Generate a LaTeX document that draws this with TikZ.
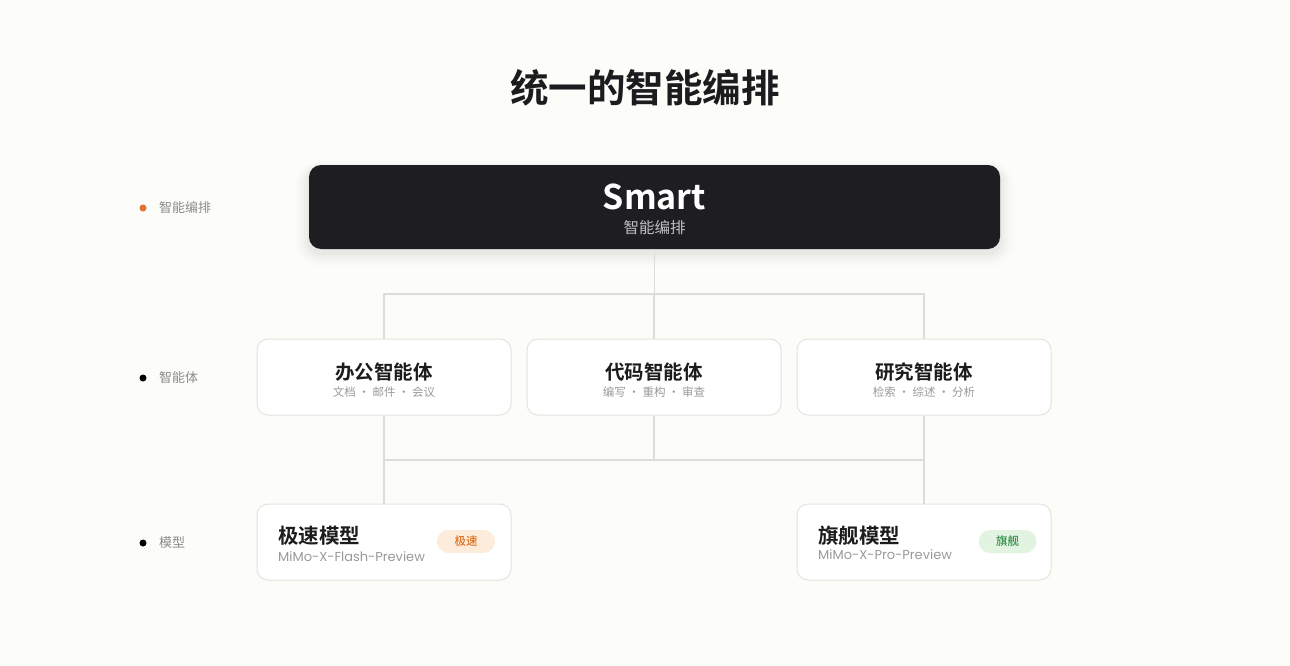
\documentclass[tikz,border=0pt]{standalone}
\usepackage{fontspec}
\setmainfont{Noto Sans CJK SC}
\newfontfamily\cjkb{Noto Sans CJK SC Bold}
\newfontfamily\cjkm{Noto Sans CJK SC Medium}
\newfontfamily\pop{Poppins}
\usetikzlibrary{positioning}
\definecolor{bg}{HTML}{FCFCF9}
\definecolor{darkbox}{HTML}{1E1D22}
\definecolor{boxline}{HTML}{E3E3DF}
\definecolor{conn}{HTML}{DCDCD8}
\definecolor{ink}{HTML}{1C1C1E}
\definecolor{subgray}{HTML}{9A9A9A}
\definecolor{lblgray}{HTML}{8C8C8C}
\definecolor{dotorange}{HTML}{E0742E}
\definecolor{orangefill}{HTML}{FDEBDB}
\definecolor{orangetext}{HTML}{E07020}
\definecolor{greenfill}{HTML}{E3F3E2}
\definecolor{greentext}{HTML}{2F8F44}
\tikzset{
  card/.style={draw=boxline, line width=1pt, fill=white, rounded corners=11pt,
    minimum width=254pt, minimum height=76pt, inner sep=0pt},
  agenttitle/.style={font=\cjkb\fontsize{19.5}{21}\selectfont, text=ink, inner sep=0pt},
  agentsub/.style={font=\fontsize{11.5}{13}\selectfont, text=subgray, inner sep=0pt},
  modeltitle/.style={font=\cjkb\fontsize{20.5}{22}\selectfont, text=ink, inner sep=0pt, anchor=west},
  modelsub/.style={font=\pop\fontsize{13}{15}\selectfont, text=subgray, inner sep=0pt, anchor=west},
  badge/.style={rounded corners=11.5pt, minimum width=58pt, minimum height=23pt, inner sep=0pt,
    font=\cjkm\fontsize{11.5}{13}\selectfont},
  conline/.style={draw=conn, line width=1.1pt},
  sidelbl/.style={font=\fontsize{13}{15}\selectfont, text=lblgray, inner sep=0pt, anchor=west},
  sidedot/.style={circle, inner sep=0pt, minimum size=7pt},
}
\begin{document}
\begin{tikzpicture}[x=1pt,y=-1pt]
\useasboundingbox (0,0) rectangle (1290,666);
\fill[bg] (0,0) rectangle (1290,666);

% title
\node[font=\cjkb\fontsize{38.5}{42}\selectfont, text=ink, inner sep=0pt] (title) at (645,88) {统一的智能编排};

% soft shadow of smart box
\foreach \s/\o in {14/0.008,11/0.012,8/0.016,5/0.02,2/0.025}{
  \fill[black, opacity=\o, rounded corners=12pt+\s pt] (309-\s,168-\s*0.5) rectangle (1000+\s,253+\s);
}
\node[fill=darkbox, rounded corners=12pt, minimum width=691pt, minimum height=84pt, inner sep=0pt] (smart) at (654.5,207) {};
\node[font=\cjkb\fontsize{34}{36}\selectfont, text=white, inner sep=0pt] (smartt) at (654.5,197) {Smart};
\node[font=\fontsize{15.5}{17}\selectfont, text=white!72!darkbox, inner sep=0pt] (smarts) at (654.5,228) {智能编排};

% agent cards
\node[card] (office) at (384,377) {};
\node[card] (code) at (654,377) {};
\node[card] (research) at (924,377) {};
\node[agenttitle] at (384,372) {办公智能体};
\node[agentsub] at (384,392) {文档 · 邮件 · 会议};
\node[agenttitle] at (654,372) {代码智能体};
\node[agentsub] at (654,392) {编写 · 重构 · 审查};
\node[agenttitle] at (924,372) {研究智能体};
\node[agentsub] at (924,392) {检索 · 综述 · 分析};

% model cards
\node[card] (flash) at (384,542) {};
\node[card] (pro) at (924,542) {};
\node[modeltitle] at (278,536) {极速模型};
\node[modelsub] at (278,557) {MiMo-X-Flash-Preview};
\node[badge, fill=orangefill, text=orangetext] (b1) at (466,541.5) {极速};
\node[modeltitle] at (818,536) {旗舰模型};
\node[modelsub] at (818,555) {MiMo-X-Pro-Preview};
\node[badge, fill=greenfill, text=greentext] (b2) at (1007.5,541.5) {旗舰};

% connectors
\coordinate (j1) at (654.5,294);
\coordinate (j2) at (654.5,460);
\draw[conline] (smart.south) -- (j1);
\draw[conline] (office.north) -- (office.north |- j1) -- (research.north |- j1) -- (research.north);
\draw[conline] (code.north) -- (code.north |- j1);
\draw[conline] (office.south) -- (office.south |- j2) -- (research.south |- j2) -- (research.south);
\draw[conline] (code.south) -- (code.south |- j2);
\draw[conline] (office.south |- j2) -- (flash.north);
\draw[conline] (research.south |- j2) -- (pro.north);

% side labels
\node[sidedot, fill=dotorange] (d1) at (143,208) {};
\node[sidelbl] (l1) at (159,208) {智能编排};
\node[sidedot, fill=black] (d2) at (143,378) {};
\node[sidelbl] (l2) at (159,378) {智能体};
\node[sidedot, fill=black] (d3) at (143,543) {};
\node[sidelbl] (l3) at (159,543) {模型};
\end{tikzpicture}
\end{document}
